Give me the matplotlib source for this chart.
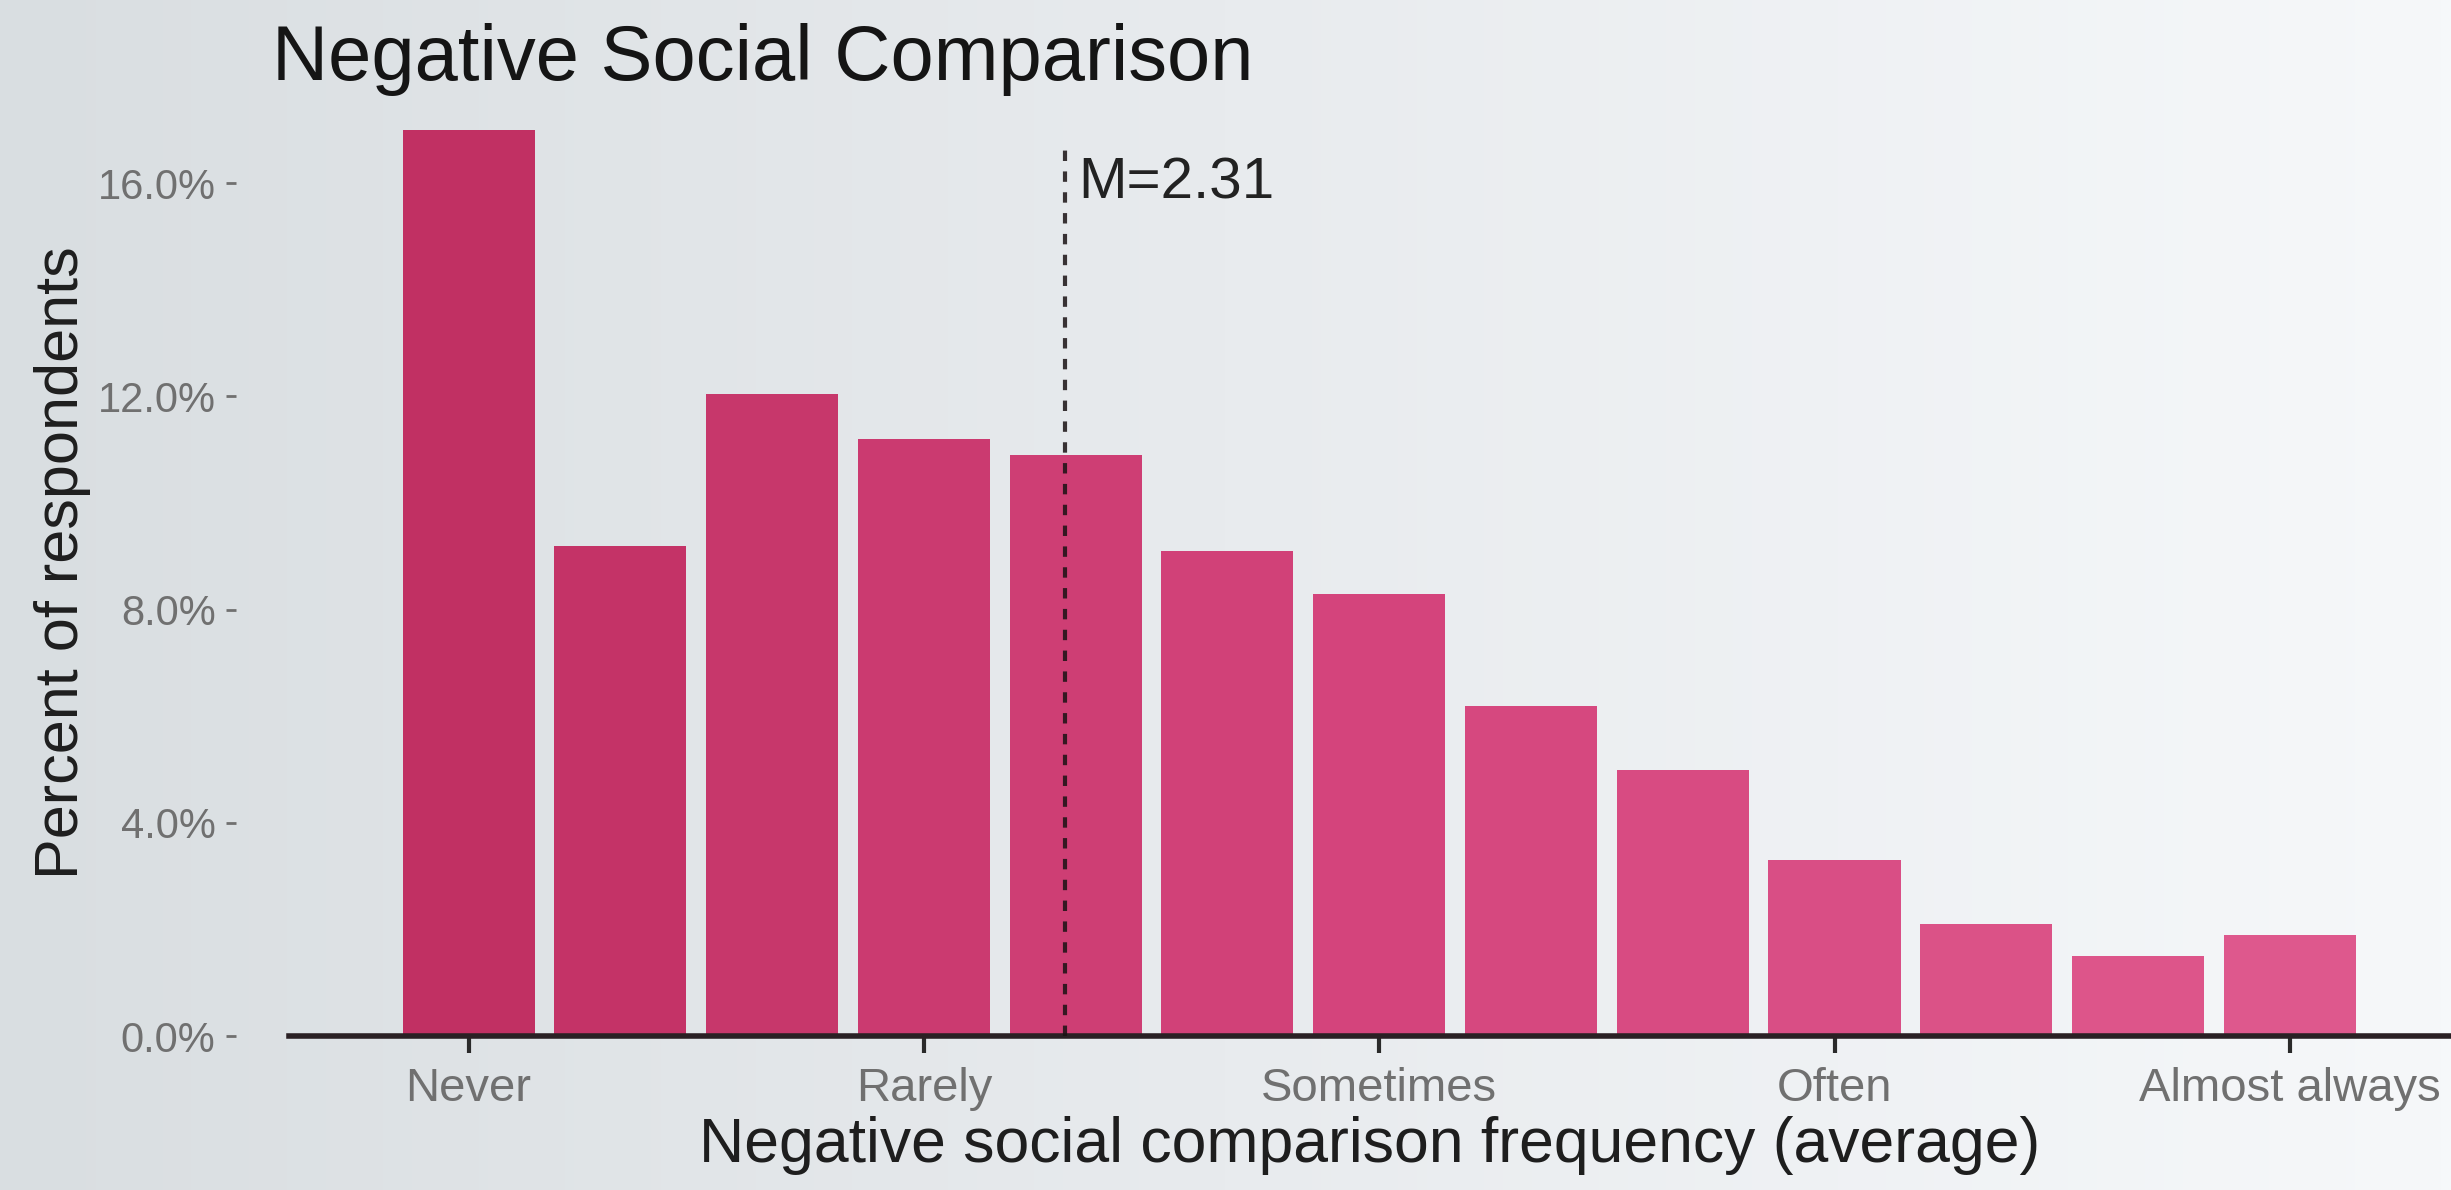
import matplotlib
matplotlib.use("Agg")
import matplotlib.pyplot as plt
import numpy as np
from matplotlib.ticker import FuncFormatter
from matplotlib.colors import LinearSegmentedColormap

plt.rcParams['font.family'] = ['Liberation Sans', 'DejaVu Sans']

# Histogram bin centres (average score, 1 = Never ... 5 = Almost always)
bin_centers = [1.0, 4/3, 5/3, 2.0, 7/3, 8/3, 3.0, 10/3, 11/3, 4.0, 13/3, 14/3, 5.0]
percents = [17.0, 9.2, 12.05, 11.2, 10.9, 9.1, 8.3, 6.2, 5.0, 3.3, 2.1, 1.5, 1.9]
tick_positions = [1, 2, 3, 4, 5]
tick_labels = ["Never", "Rarely", "Sometimes", "Often", "Almost always"]
y_ticks = [0, 4, 8, 12, 16]
mean_value = 2.31

fig = plt.figure(figsize=(24.51, 11.90), dpi=100, facecolor='#eceef0')

# soft background lighting gradient (left greyer, right whiter)
bg_ax = fig.add_axes([0, 0, 1, 1], zorder=-5)
bg_cmap = LinearSegmentedColormap.from_list('bg', ['#d9dee1', '#e8ebee', '#f6f8fa'])
grad = np.linspace(0, 1, 256)[None, :]
bg_ax.imshow(grad, aspect='auto', cmap=bg_cmap, extent=[0, 1, 0, 1])
bg_ax.axis('off')

ax = fig.add_axes([0.118, 0.1294, 0.882, 0.795], facecolor='none')

bar_cmap = LinearSegmentedColormap.from_list('bars', ['#bd2c5e', '#d4447c', '#e05c90'])
xmin, xmax = 0.606, 5.354
colors = [bar_cmap((c - xmin) / (xmax - xmin)) for c in bin_centers]
ax.bar(bin_centers, percents, width=0.29, color=colors, edgecolor='none', zorder=2)

ax.axvline(mean_value, ymin=0, ymax=16.7 / 17.75, color='#1a1214', alpha=0.85,
           linestyle=(0, (2.5, 2.5)), linewidth=3, zorder=3)
ax.text(mean_value + 0.03, 16.0, f"M={mean_value}", fontsize=42, color='#222222',
        va='center', ha='left')

ax.set_xlim(xmin, xmax)
ax.set_ylim(0, 17.75)
ax.set_xticks(tick_positions)
ax.set_xticklabels(tick_labels, fontsize=34, color='#707070')
ax.set_yticks(y_ticks)
ax.yaxis.set_major_formatter(FuncFormatter(lambda v, p: f"{v:.1f}%"))
ax.tick_params(axis='y', labelsize=30, labelcolor='#707070', color='#707070',
               length=7, width=2, pad=8)
ax.tick_params(axis='x', length=12, width=3, color='#2a2a2a', pad=10)

for s in ['top', 'right']:
    ax.spines[s].set_visible(False)
ax.spines['left'].set_position(('outward', 38))
ax.spines['left'].set_visible(False)
ax.spines['bottom'].set_linewidth(4)
ax.spines['bottom'].set_color('#2a2024')

ax.set_xlabel("Negative social comparison frequency (average)", fontsize=45,
              color='#1e1e1e', labelpad=4)
ax.set_ylabel("Percent of respondents", fontsize=44, color='#1e1e1e', labelpad=5)

fig.text(0.111, 0.95, "Negative Social Comparison", fontsize=56, color='#151515',
         ha='left', va='center')

fig.savefig("out.png", dpi=100)
